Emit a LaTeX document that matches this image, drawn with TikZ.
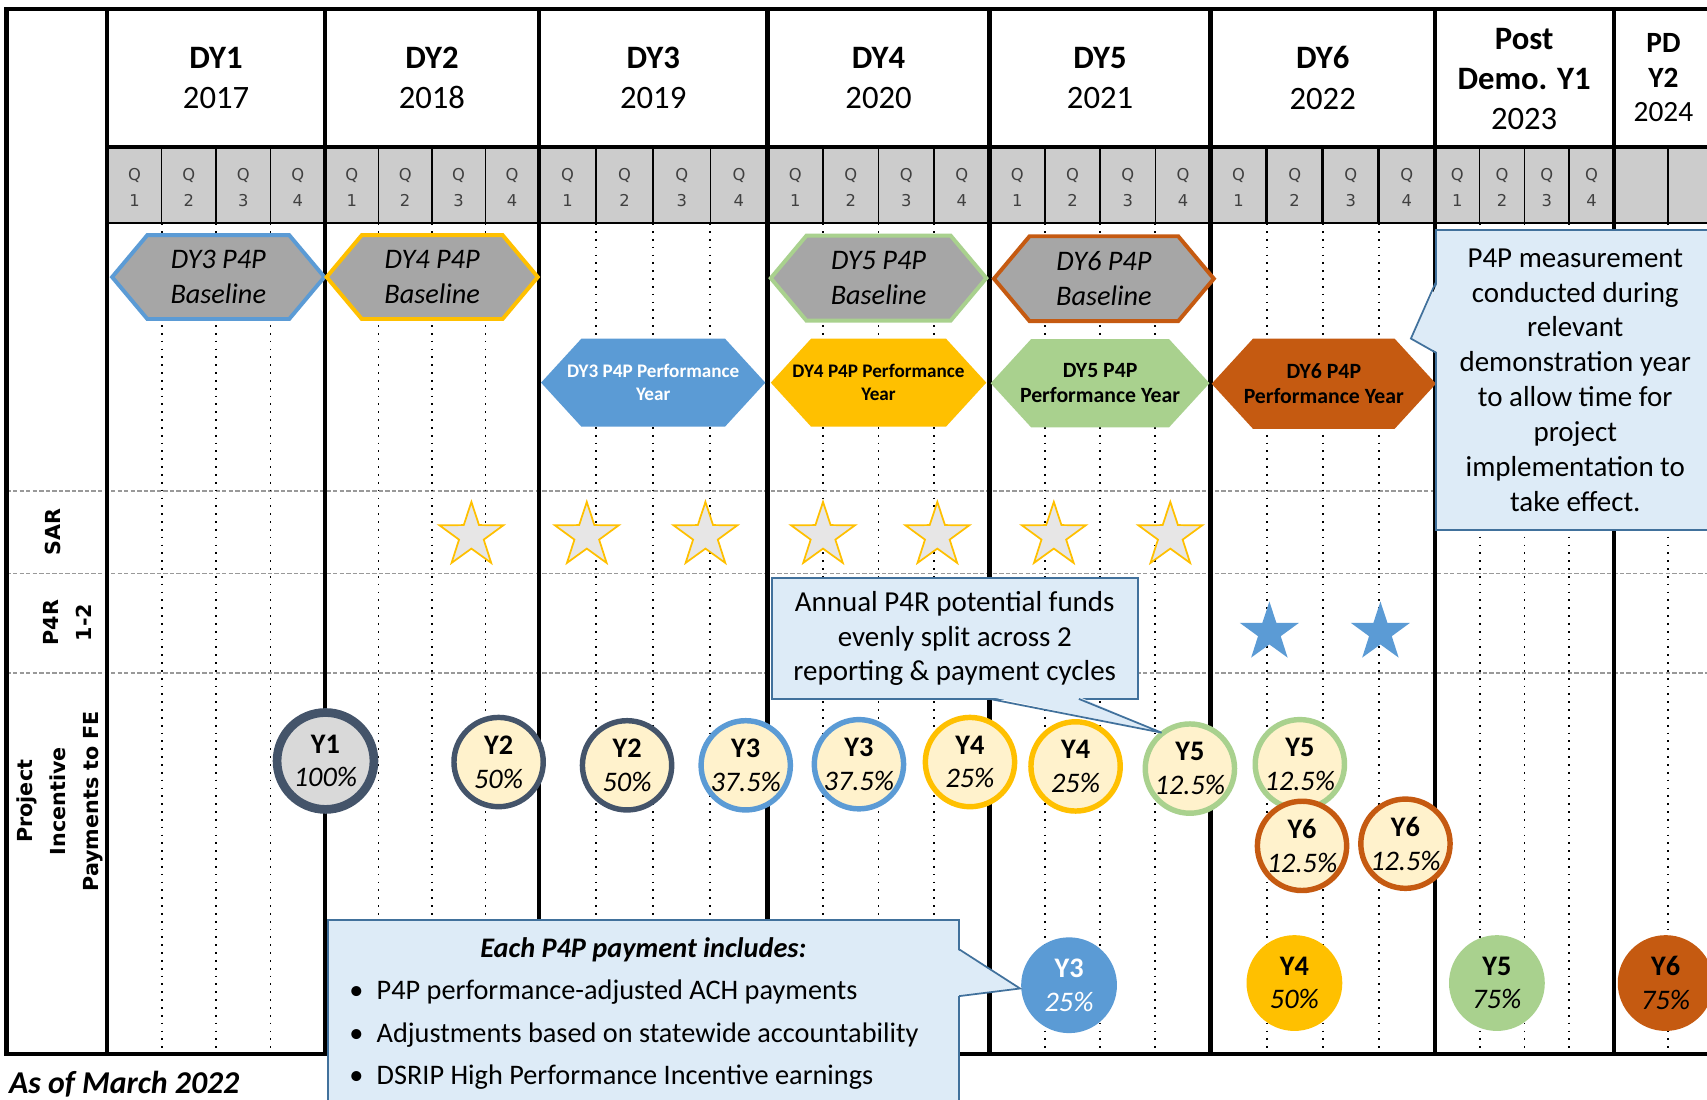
\documentclass[tikz,border=0pt]{standalone}
\usepackage{fontspec}
\setmainfont{Carlito}
\newfontfamily\verdfont{DejaVu Sans}
\usetikzlibrary{shapes.symbols,shapes.geometric}
\definecolor{figBlue}{RGB}{91,155,213}
\definecolor{figGold}{RGB}{255,192,0}
\definecolor{figGreen}{RGB}{169,209,142}
\definecolor{figOrange}{RGB}{197,90,17}
\definecolor{figGray}{RGB}{166,166,166}
\definecolor{figQuarter}{RGB}{204,204,204}
\definecolor{figCream}{RGB}{255,242,204}
\definecolor{figNavy}{RGB}{68,84,106}
\definecolor{figLight}{RGB}{217,217,217}
\definecolor{figStar}{RGB}{231,230,230}
\definecolor{figNote}{RGB}{221,235,247}
\definecolor{figNoteLine}{RGB}{65,113,156}

\begin{document}
\begin{tikzpicture}[
  x=0.5pt, y=-0.5pt,
  every node/.style={font=\fontsize{13}{16}\selectfont},
  hdr/.style={align=center, inner sep=0pt, font=\fontsize{15}{18.5}\selectfont},
  ql/.style={align=center, inner sep=0pt, text=black!75, font=\verdfont\fontsize{7.5}{12}\selectfont},
  rl/.style={align=center, inner sep=0pt, rotate=90, font=\verdfont\bfseries\fontsize{9.5}{15}\selectfont},
  thk/.style={line width=2pt},
  qln/.style={line width=0.7pt},
  dln/.style={line width=0.8pt, dash pattern=on 0.8pt off 2.8pt},
  rowln/.style={gray!80, line width=0.7pt, dash pattern=on 2pt off 1pt},
  bsl/.style={signal, signal to=west and east, signal pointer angle=100, draw=#1, line width=1.8pt,
              fill=figGray, minimum height=38.5pt, inner sep=0pt, align=center,
              font=\itshape\fontsize{13}{16}\selectfont},
  prf/.style={signal, signal to=west and east, signal pointer angle=95, fill=#1, minimum height=40.5pt,
              inner sep=0pt, align=center, font=\bfseries\fontsize{8.8}{10.5}\selectfont},
  sstar/.style={star, star points=5, star point ratio=2.6, draw=figGold, fill=figStar, line width=0.8pt,
                minimum size=31pt, inner sep=0pt},
  rstar/.style={star, star points=5, star point ratio=2.6, fill=figBlue, minimum size=28.5pt, inner sep=0pt},
  pay/.style={circle, draw=#1, line width=2.5pt, fill=figCream, minimum size=41pt, inner sep=0pt,
              align=center, font=\fontsize{13}{15.5}\selectfont},
  paid/.style={circle, fill=#1, minimum size=44pt, inner sep=0pt, align=center,
               font=\fontsize{13}{15.5}\selectfont},
  note/.style={draw=figNoteLine, line width=0.8pt, fill=figNote, inner sep=0pt, outer sep=0pt,
               align=center, font=\fontsize{13.3}{16}\selectfont},
  nptr/.style={draw=figNoteLine, line width=0.8pt}
]
\useasboundingbox (0,0) rectangle (1568,1010);
\fill[white] (0,0) rectangle (1568,1010);

% grid
\fill[figQuarter] (98.5,135) rectangle (1600,205);
\foreach \yy in {451,527,618} \draw[rowln] (6,\yy) -- (1600,\yy);
\foreach \xa/\xb in {98.5/298.5, 298.5/495, 495/705, 705/909, 909/1112, 1112/1318, 1318/1482.5, 1482.5/1680.5}
  \foreach \k in {1,2,3} {
    \draw[qln] ({\xa+\k*(\xb-\xa)/4},135) -- ({\xa+\k*(\xb-\xa)/4},205);
    \draw[dln] ({\xa+\k*(\xb-\xa)/4},205) -- ({\xa+\k*(\xb-\xa)/4},968);
  }
\foreach \k in {1,2,3} \draw[line width=1.4pt] ({1112+\k*51.5},135) -- ++(0,70);
\draw[thk] (1600,8) -- (6,8) -- (6,968) -- (1600,968);
\draw[thk] (98.5,135) -- (1600,135);
\draw[line width=1.2pt] (98.5,205) -- (1600,205);
\foreach \xx in {98.5,298.5,495,705,909,1112,1318,1482.5} \draw[thk] (\xx,8) -- (\xx,968);

% years and quarters
\foreach \xa/\xb/\yr [count=\n] in {98.5/298.5/2017, 298.5/495/2018, 495/705/2019, 705/909/2020, 909/1112/2021, 1112/1318/2022}
  \node[hdr] (dy\n) at ({(\xa+\xb)/2},71.5) {\textbf{DY\n}\\\yr};
\node[hdr] (post) at (1400,72.5) {\textbf{Post}\\\textbf{Demo. Y1}\\2023};
\node[hdr, font=\fontsize{13.5}{15.75}\selectfont] (pd) at (1528,71.5) {\textbf{PD}\\\textbf{Y2}\\2024};
\foreach \xa/\xb [count=\n] in {98.5/298.5, 298.5/495, 495/705, 705/909, 909/1112, 1112/1318, 1318/1482.5}
  \foreach \k in {1,...,4}
    \node[ql] (q\n\k) at ({\xa+(\k-0.5)*(\xb-\xa)/4},172) {Q\\\k};

% row labels
\node[rl] (sar) at (49,489) {SAR};
\node[rl] (p4r) at (62,572) {P4R\\1-2};
\node[rl] (pay) at (55,736) {Project\\Incentive\\Payments to FE};

% baseline and performance years
\node[bsl=figBlue, minimum width=97.5pt] (b3) at (200.5,254.5) {DY3 P4P\\Baseline};
\node[bsl=figGold, minimum width=97pt] (b4) at (397,254.5) {DY4 P4P\\Baseline};
\node[bsl=figGreen, minimum width=99pt, minimum height=39pt] (b5) at (807,255.5) {DY5 P4P\\Baseline};
\node[bsl=figOrange, minimum width=101pt, minimum height=39pt] (b6) at (1014,256) {DY6 P4P\\Baseline};
\node[prf=figBlue, text=white, minimum width=103pt] (p3) at (600,351.5)
  {\makebox[40pt]{DY3 P4P Performance}\\\makebox[40pt]{Year}};
\node[prf=figGold, minimum width=99pt] (p4) at (807,351.5)
  {\makebox[40pt]{DY4 P4P Performance}\\\makebox[40pt]{Year}};
\node[prf=figGreen, minimum width=100.5pt, font=\bfseries\fontsize{10}{11.5}\selectfont] (p5) at (1010.5,352)
  {\makebox[40pt]{DY5 P4P}\\\makebox[40pt]{Performance Year}};
\node[prf=figOrange, minimum width=103pt, minimum height=41.5pt, font=\bfseries\fontsize{10}{11.5}\selectfont] (p6) at (1216,352.5)
  {\makebox[40pt]{DY6 P4P}\\\makebox[40pt]{Performance Year}};

% reports
\foreach \xx [count=\i] in {433,539,648,756,861,968,1075} \node[sstar] (sar\i) at (\xx,492) {};
\node[rstar] (rep1) at (1166,581) {};
\node[rstar] (rep2) at (1268,581) {};

% payments
\node[pay=figNavy, fill=figLight, line width=4pt, minimum size=44.5pt] (y1) at (299,699) {\textbf{Y1}\\\textit{100\%}};
\node[pay=figNavy] (y2a) at (458,700) {\textbf{Y2}\\\textit{50\%}};
\node[pay=figNavy] (y2b) at (576,703) {\textbf{Y2}\\\textit{50\%}};
\node[pay=figBlue] (y3a) at (685,703) {\textbf{Y3}\\\textit{37.5\%}};
\node[pay=figBlue] (y3b) at (789,702) {\textbf{Y3}\\\textit{37.5\%}};
\node[pay=figGold] (y4a) at (891,700) {\textbf{Y4}\\\textit{25\%}};
\node[pay=figGold] (y4b) at (988,704) {\textbf{Y4}\\\textit{25\%}};
\node[pay=figGreen] (y5a) at (1093,706) {\textbf{Y5}\\\textit{12.5\%}};
\node[pay=figGreen] (y5b) at (1194,702) {\textbf{Y5}\\\textit{12.5\%}};
\node[pay=figOrange] (y6a) at (1196,777) {\textbf{Y6}\\\textit{12.5\%}};
\node[pay=figOrange] (y6b) at (1291,775) {\textbf{Y6}\\\textit{12.5\%}};
\node[paid=figBlue, text=white] (py3) at (982,905) {\textbf{Y3}\\\textit{25\%}};
\node[paid=figGold] (py4) at (1189,903) {\textbf{Y4}\\\textit{50\%}};
\node[paid=figGreen] (py5) at (1375,903) {\textbf{Y5}\\\textit{75\%}};
\node[paid=figOrange] (py6) at (1530,903) {\textbf{Y6}\\\textit{75\%}};

% notes
\node[note, minimum width=128pt, minimum height=138pt] (meas) at (1447,349)
  {P4P measurement\\conducted during\\relevant\\demonstration year\\to allow time for\\project\\implementation to\\take effect.};
\coordinate (meastip) at (1296,311);
\fill[figNote] ([xshift=1pt,yshift=45pt]meas.west) -- (meastip) -- ([xshift=1pt,yshift=12.5pt]meas.west) -- cycle;
\draw[nptr] ([yshift=45pt]meas.west) -- (meastip) -- ([yshift=12.5pt]meas.west);

\node[note, minimum width=168pt, minimum height=55.5pt] (split) at (877,586.5)
  {Annual P4R potential funds\\evenly split across 2\\reporting \& payment cycles};
\coordinate (splittip) at (1067,673);
\fill[figNote] ([xshift=16pt,yshift=1pt]split.south) -- (splittip) -- ([xshift=57pt,yshift=1pt]split.south) -- cycle;
\draw[nptr] ([xshift=16pt]split.south) -- (splittip) -- ([xshift=57pt]split.south);

\node[note, anchor=north west, align=left, inner xsep=10pt, inner ysep=8pt,
      font=\fontsize{13}{19.5}\selectfont] (incl) at (301,845)
  {\makebox[270pt]{\bfseries\itshape Each P4P payment includes:}\\
   \makebox[12.5pt][l]{\textbullet}P4P performance-adjusted ACH payments\\
   \makebox[12.5pt][l]{\textbullet}Adjustments based on statewide accountability\\
   \makebox[12.5pt][l]{\textbullet}DSRIP High Performance Incentive earnings};
\coordinate (incltip) at (937,908);
\fill[figNote] ([xshift=-1pt,yshift=-13.5pt]incl.north east) -- (incltip) -- ([xshift=-1pt,yshift=-35pt]incl.north east) -- cycle;
\draw[nptr] ([yshift=-13.5pt]incl.north east) -- (incltip) -- ([yshift=-35pt]incl.north east);

\node[anchor=west, inner sep=0pt, font=\bfseries\itshape\fontsize{14.6}{17}\selectfont] (asof) at (8,996) {As of March 2022};
\end{tikzpicture}
\end{document}
